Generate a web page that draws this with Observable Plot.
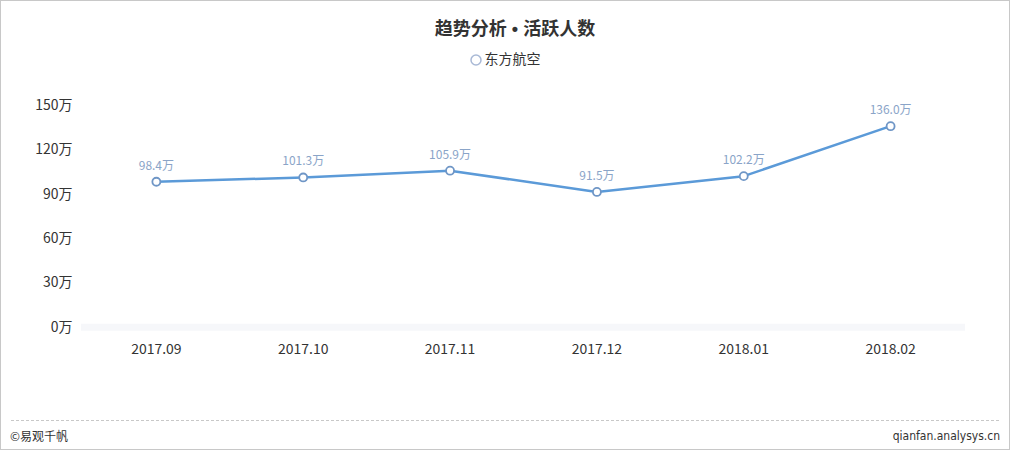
<!DOCTYPE html>
<html><head><meta charset="utf-8">
<script src="https://cdn.jsdelivr.net/npm/d3@7"></script>
<script src="https://cdn.jsdelivr.net/npm/@observablehq/plot@0.6"></script>
<style>
html,body{margin:0;padding:0;background:#fff;}
#frame{position:relative;width:1010px;height:450px;box-sizing:border-box;border:1px solid #c8c8c8;font-family:"Noto Sans CJK SC","Noto Sans",sans-serif;color:#333;overflow:hidden;}
#title{position:absolute;top:13px;left:10px;width:100%;text-align:center;font-size:18px;font-weight:bold;color:#333;line-height:26px;}
#legend{position:absolute;top:47px;left:0;width:100%;text-align:center;font-size:14px;line-height:20px;color:#333;}
#legend svg{vertical-align:-2px;margin-right:3px;}
#chart{position:absolute;top:79px;left:-1px;}
#rule{position:absolute;top:419px;left:10px;width:988px;border-top:1px dashed #c8c8c8;}
#fl{position:absolute;top:427px;left:9px;font-size:12px;line-height:16px;}
#fr{position:absolute;top:427px;right:9px;font-size:12px;line-height:16px;font-family:"DejaVu Sans Condensed","Liberation Sans",sans-serif;}
</style></head>
<body>
<div id="frame">
<div id="title">趋势分析<span style="font-family:'Liberation Sans',sans-serif;margin:0 5px">•</span>活跃人数</div>
<div id="legend"><svg width="12" height="12"><circle cx="6" cy="6" r="5" fill="#fff" stroke="#a9b9d6" stroke-width="1.5"/></svg>东方航空</div>
<div id="chart"></div>
<div id="rule"></div>
<div id="fl">©易观千帆</div>
<div id="fr">qianfan.analysys.cn</div>
</div>
<script>
const months = ["2017.09","2017.10","2017.11","2017.12","2018.01","2018.02"];
const values = [98.4, 101.3, 105.9, 91.5, 102.2, 136.0];
const yTicks = [0, 30, 60, 90, 120, 150];
const seriesName = "东方航空";

const data = months.map((m, i) => ({month: m, value: values[i]}));

const plot = Plot.plot({
  width: 1010,
  height: 300,
  marginTop: 25,
  marginBottom: 53,
  marginLeft: 81,
  marginRight: 44,
  style: {fontFamily: "'Noto Sans CJK SC','Noto Sans',sans-serif", fontSize: "14px", color: "#333", background: "transparent"},
  x: {type: "point", domain: months, padding: 0.5, label: null},
  y: {domain: [0, 150], label: null},
  marks: [
    Plot.ruleY([0], {stroke: "#f6f7fa", strokeWidth: 7}),
    Plot.axisX({tickSize: 0, tickPadding: 17, fontSize: 14, fill: "#333", label: null}),
    Plot.axisY({ticks: yTicks, tickSize: 0, tickPadding: 9, fontSize: 14, fill: "#333", label: null, tickFormat: d => d + "万"}),
    Plot.line(data, {x: "month", y: "value", stroke: "#5b9ad8", strokeWidth: 2.5}),
    Plot.dot(data, {x: "month", y: "value", r: 4, fill: "#fff", stroke: "#6f96c6", strokeWidth: 1.8}),
    Plot.text(data, {x: "month", y: "value", text: d => d.value.toFixed(1) + "万", dy: -16, fill: "#8aa4c8", fontSize: 12})
  ]
});
document.getElementById("chart").appendChild(plot);
</script>
</body></html>
